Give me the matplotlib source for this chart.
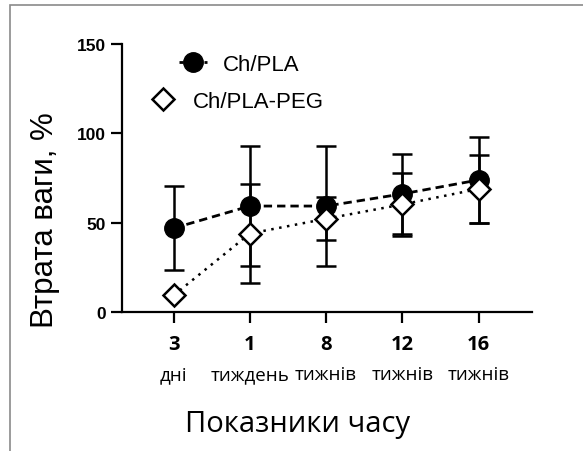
import matplotlib.pyplot as plt
from matplotlib.patches import Rectangle
from matplotlib.lines import Line2D
import matplotlib.transforms as mtransforms

# --- DATA ---
time_nums = ["3", "1", "8", "12", "16"]
time_units = ["дні", "тиждень", "тижнів", "тижнів", "тижнів"]

pla_mean = [46.9, 59.3, 59.3, 66.1, 73.9]
pla_err = [23.5, 33.8, 33.8, 22.4, 24.0]

peg_mean = [9.3, 43.9, 52.2, 60.2, 68.9]
peg_err = [0.0, 27.5, 12.0, 17.5, 19.0]

# --- FIGURE ---
fig = plt.figure(figsize=(5.83, 4.52), dpi=100)
ax = fig.add_axes([122 / 583, 139 / 452, 410 / 583, 268 / 452])

# frame of the cropped screenshot (only top and left edges show)
fig.patches.append(Rectangle((10 / 583, -0.1), 1.2, (452 - 6) / 452 + 0.1,
                             transform=fig.transFigure, fill=False,
                             edgecolor='#8a8a8a', lw=1.2))

x = list(range(len(time_nums)))

ax.errorbar(x, pla_mean, yerr=pla_err, color='black', ls=(0, (3, 1.8)), lw=2.0,
            marker='o', ms=14, mfc='black', mec='black',
            ecolor='black', elinewidth=1.8, capsize=7, capthick=1.8, zorder=3)
ax.errorbar(x, peg_mean, yerr=peg_err, color='black', ls=(0, (1, 2.2)), lw=1.8,
            marker='D', ms=11.5, mfc='white', mec='black', mew=1.8,
            ecolor='black', elinewidth=1.8, capsize=7, capthick=1.8, zorder=4)

ax.set_xlim(-0.676, 4.70)
ax.set_ylim(0, 150)
ax.set_yticks([0, 50, 100, 150])
ax.set_xticks(x)
ax.set_xticklabels(time_nums, fontsize=14.5, fontweight='bold', family='Open Sans')
for lab in ax.get_yticklabels():
    lab.set_fontsize(12.5)
    lab.set_fontweight('bold')
    lab.set_family('Liberation Sans')

for s in ['top', 'right']:
    ax.spines[s].set_visible(False)
for s in ['left', 'bottom']:
    ax.spines[s].set_linewidth(1.6)
ax.tick_params(axis='both', width=1.6, length=8, direction='out')
ax.tick_params(axis='x', pad=8)
ax.tick_params(axis='y', pad=3.5)

# second row of x labels
trans = mtransforms.blended_transform_factory(ax.transData, ax.transAxes)
for i, u in enumerate(time_units):
    ax.text(i, -0.231, u, transform=trans, ha='center', va='center',
            fontsize=13.5, family='Open Sans', clip_on=False)

ax.set_ylabel("Втрата ваги, %", fontsize=22.5, family='Liberation Sans')
ax.yaxis.set_label_coords(-0.151, 0.347)
fig.text(298 / 583, 1 - 425 / 452, "Показники часу", ha='center', va='center',
         fontsize=21, family='Open Sans')

# legend entries (two separate boxes, staggered like the original)
h1 = Line2D([], [], color='black', ls=(0, (1.5, 1.5)), lw=2.0, marker='o', ms=14,
            mfc='black', mec='black')
h2 = Line2D([], [], color='black', ls='none', marker='D', ms=11.5,
            mfc='white', mec='black', mew=1.8)
leg_kw = dict(frameon=False, handlelength=1.22, handletextpad=0.74,
              borderaxespad=0, borderpad=0,
              prop={'family': 'Liberation Sans', 'size': 16})
leg1 = ax.legend([h1], ["Ch/PLA"], loc='center left',
                 bbox_to_anchor=(0.140, 0.925), **leg_kw)
ax.add_artist(leg1)
ax.legend([h2], ["Ch/PLA-PEG"], loc='center left',
          bbox_to_anchor=(0.067, 0.787), **leg_kw)

plt.savefig("out.png", dpi=100)
